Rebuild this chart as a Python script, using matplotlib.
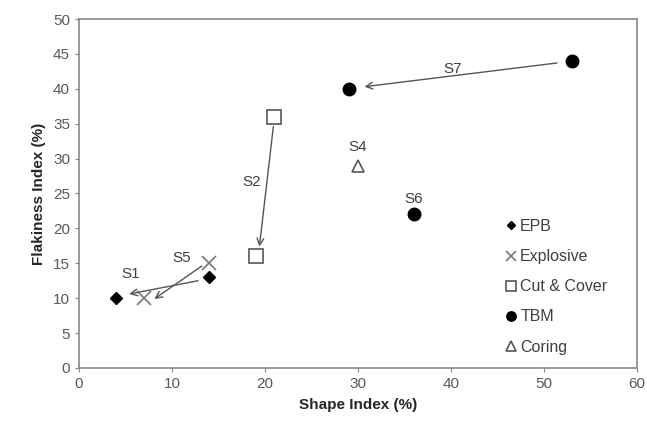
import matplotlib.pyplot as plt

plt.rcParams['font.family'] = ['Liberation Sans', 'DejaVu Sans']

# data
epb_x = [4, 14]
epb_y = [10, 13]
exp_x = [7, 14]
exp_y = [10, 15]
cc_x = [21, 19]
cc_y = [36, 16]
tbm_x = [29, 53, 36]
tbm_y = [40, 44, 22]
cor_x = [30]
cor_y = [29]

# arrows: (label, start, end, label position)
arrows = [
    ("S1", (12.8, 12.5), (5.4, 10.6), (5.6, 13.4)),
    ("S5", (13.2, 14.6), (8.1, 9.9), (11.0, 15.8)),
    ("S2", (20.9, 34.6), (19.4, 17.4), (18.6, 26.6)),
    ("S7", (51.4, 43.7), (30.7, 40.3), (40.2, 42.9)),
]
plain_labels = [("S4", (30, 31.6)), ("S6", (36, 24.2))]

fig = plt.figure(figsize=(6.47, 4.28), dpi=100)
ax = fig.add_axes([0.1221, 0.1402, 0.8624, 0.8154])

ax.plot(epb_x, epb_y, 'D', color='black', ms=6, ls='none', label='EPB')
ax.plot(exp_x, exp_y, 'x', color='#777777', ms=10, mew=1.2, ls='none', label='Explosive')
ax.plot(cc_x, cc_y, 's', mfc='white', mec='#555555', ms=10, mew=1.2, ls='none', label='Cut & Cover')
ax.plot(tbm_x, tbm_y, 'o', color='black', ms=9, ls='none', label='TBM')
ax.plot(cor_x, cor_y, '^', mfc='white', mec='#555555', ms=9, mew=1.2, ls='none', label='Coring')

for lab, start, end, pos in arrows:
    ax.annotate('', xy=end, xytext=start,
                arrowprops=dict(arrowstyle='->', color='#555555', lw=1.0,
                                mutation_scale=12, shrinkA=0, shrinkB=0))
    ax.text(pos[0], pos[1], lab, fontsize=11, color='#404040', ha='center', va='center')
for lab, pos in plain_labels:
    ax.text(pos[0], pos[1], lab, fontsize=11, color='#404040', ha='center', va='center')

ax.set_xlim(0, 60)
ax.set_ylim(0, 50)
ax.set_xticks(range(0, 61, 10))
ax.set_yticks(range(0, 51, 5))
ax.set_xlabel('Shape Index (%)', fontsize=11, fontweight='bold', color='#262626', labelpad=5)
ax.set_ylabel('Flakiness Index (%)', fontsize=11, fontweight='bold', color='#262626', labelpad=5)
ax.tick_params(colors='#888888', labelcolor='#595959', labelsize=11, length=3, direction='out')
for s in ax.spines.values():
    s.set_color('#888888')
    s.set_linewidth(1.2)

leg = ax.legend(loc='upper left', bbox_to_anchor=(0.745, 0.45), frameon=False,
                fontsize=11.5, handletextpad=0.0, labelspacing=0.95, handlelength=1.1,
                borderpad=0, markerscale=0.75)
for t in leg.get_texts():
    t.set_color('#404040')

fig.savefig('out.png', dpi=100)
